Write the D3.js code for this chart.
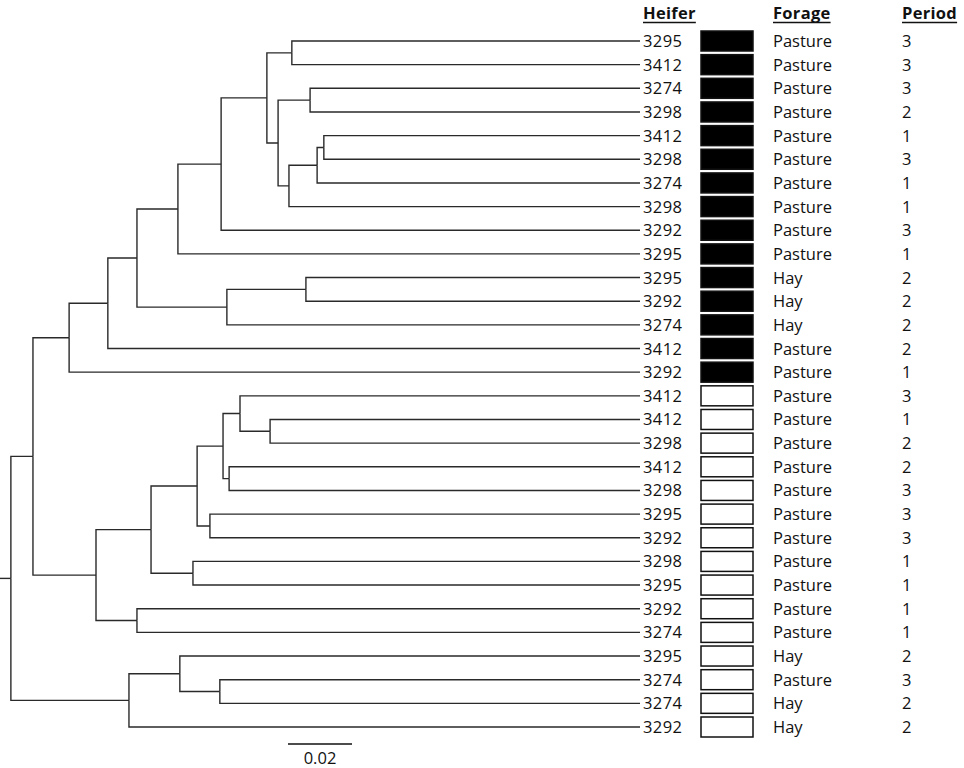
<!DOCTYPE html>
<html>
<head>
<meta charset="utf-8">
<script src="https://cdn.jsdelivr.net/npm/d3@7"></script>
<style>
  body { margin: 0; background: #fff; }
  text { font-family: "Open Sans", "Noto Sans", sans-serif; fill: #111; }
</style>
</head>
<body>
<div id="chart"></div>
<script>
// leaves, top to bottom
const heifers = ["3295","3412","3274","3298","3412","3298","3274","3298","3292","3295",
                 "3295","3292","3274","3412","3292","3412","3412","3298","3412","3298",
                 "3295","3292","3298","3295","3292","3274","3295","3274","3274","3292"];
const forages = ["Pasture","Pasture","Pasture","Pasture","Pasture","Pasture","Pasture","Pasture","Pasture","Pasture",
                 "Hay","Hay","Hay","Pasture","Pasture","Pasture","Pasture","Pasture","Pasture","Pasture",
                 "Pasture","Pasture","Pasture","Pasture","Pasture","Pasture","Hay","Pasture","Hay","Hay"];
const periods = [3,3,3,2,1,3,1,1,3,1, 2,2,2,2,1,3,1,2,2,3, 3,3,1,1,1,1,2,3,2,2];
const cluster = [1,1,1,1,1,1,1,1,1,1, 1,1,1,1,1,0,0,0,0,0, 0,0,0,0,0,0,0,0,0,0];
const headers = ["Heifer", "Forage", "Period"];

// merges: [node, child, child, height (distance to tips)]
const merges = [
  ["A","L1","L2",0.1088],
  ["B","L3","L4",0.1031],
  ["C","L5","L6",0.0988],
  ["D","C","L7",0.1009],
  ["E","D","L8",0.1097],
  ["F","B","E",0.1131],
  ["G","A","F",0.1166],
  ["H","G","L9",0.1309],
  ["I","H","L10",0.1444],
  ["J","L11","L12",0.1044],
  ["K","J","L13",0.1291],
  ["L","I","K",0.1572],
  ["M","L","L14",0.1663],
  ["N","M","L15",0.1784],
  ["R","L17","L18",0.1156],
  ["Q","L16","R",0.1250],
  ["S","L19","L20",0.1284],
  ["T","Q","S",0.1303],
  ["U","L21","L22",0.1344],
  ["V","T","U",0.1384],
  ["W","L23","L24",0.1397],
  ["X","V","W",0.1528],
  ["Y","L25","L26",0.1572],
  ["Z","X","Y",0.1700],
  ["P","N","Z",0.1897],
  ["AA","L28","L29",0.1313],
  ["AB","L27","AA",0.1438],
  ["AC","AB","L30",0.1597],
  ["root","P","AC",0.1966]
];
const scaleBarValue = 0.02;

const width = 964, height = 768;

const svg = d3.select("#chart")
              .append("svg")
              .attr("width", width)
              .attr("height", height);

const x = d3.scaleLinear().domain([0.2, 0]).range([0, 640]);
const y = d3.scalePoint().domain(d3.range(heifers.length)).range([41, 727]);

// build the tree
const nodes = {};
heifers.forEach((h, i) => nodes["L" + (i + 1)] = { name: "L" + (i + 1), leaf: i, h: 0 });
merges.forEach(([name, a, b, h]) => nodes[name] = { name, h, children: [nodes[a], nodes[b]] });

const root = d3.hierarchy(nodes.root);
root.eachAfter(d => {
    d.py = d.children
        ? (d.children[0].py + d.children[d.children.length - 1].py) / 2
        : y(d.data.leaf);
});

const tree = svg.append("g")
                .attr("fill", "none")
                .attr("stroke", "#2a2a2a")
                .attr("stroke-width", 1.4);

tree.selectAll("path")
    .data(root.links())
    .join("path")
    .attr("d", l => `M${x(l.source.data.h)},${l.source.py}V${l.target.py}H${x(l.target.data.h)}`);

// root stub
tree.append("path")
    .attr("d", `M${x(0.2)},${root.py}H${x(root.data.h)}`);

// scale bar
const barX = 288, barY = 744;
svg.append("line")
   .attr("x1", barX).attr("x2", barX + x(0) - x(scaleBarValue))
   .attr("y1", barY).attr("y2", barY)
   .attr("stroke", "#111").attr("stroke-width", 1.4);
svg.append("text")
   .attr("x", barX + (x(0) - x(scaleBarValue)) / 2)
   .attr("y", 764)
   .attr("text-anchor", "middle")
   .attr("font-size", 16.5)
   .text(scaleBarValue);

// columns
const colX = [643, 773, 902];
const boxX = 701, boxW = 52, boxH = 20;

const head = svg.selectAll(".head")
   .data(headers)
   .join("g")
   .attr("class", "head");
head.append("text")
    .attr("x", (d, i) => colX[i])
    .attr("y", 19)
    .attr("font-size", 16.5)
    .attr("letter-spacing", 0.3)
    .attr("font-weight", "bold")
    .text(d => d)
    .each(function(d, i) {
        const w = this.getComputedTextLength();
        d3.select(this.parentNode).append("line")
          .attr("x1", colX[i]).attr("x2", colX[i] + w)
          .attr("y1", 22.5).attr("y2", 22.5)
          .attr("stroke", "#111").attr("stroke-width", 1.5);
    });

const rows = svg.selectAll(".row")
   .data(d3.range(heifers.length))
   .join("g")
   .attr("class", "row")
   .attr("transform", i => `translate(0, ${y(i)})`);

rows.append("text")
    .attr("x", colX[0]).attr("y", 6)
    .attr("font-size", 16.5)
    .attr("letter-spacing", 0.4)
    .text(i => heifers[i]);

rows.append("rect")
    .attr("x", boxX).attr("y", -boxH / 2)
    .attr("width", boxW).attr("height", boxH)
    .attr("fill", i => cluster[i] ? "#000" : "#fff")
    .attr("stroke", "#111").attr("stroke-width", 1.5);

rows.append("text")
    .attr("x", colX[1]).attr("y", 6)
    .attr("font-size", 16.5)
    .text(i => forages[i]);

rows.append("text")
    .attr("x", colX[2]).attr("y", 6)
    .attr("font-size", 16.5)
    .text(i => periods[i]);
</script>
</body>
</html>
